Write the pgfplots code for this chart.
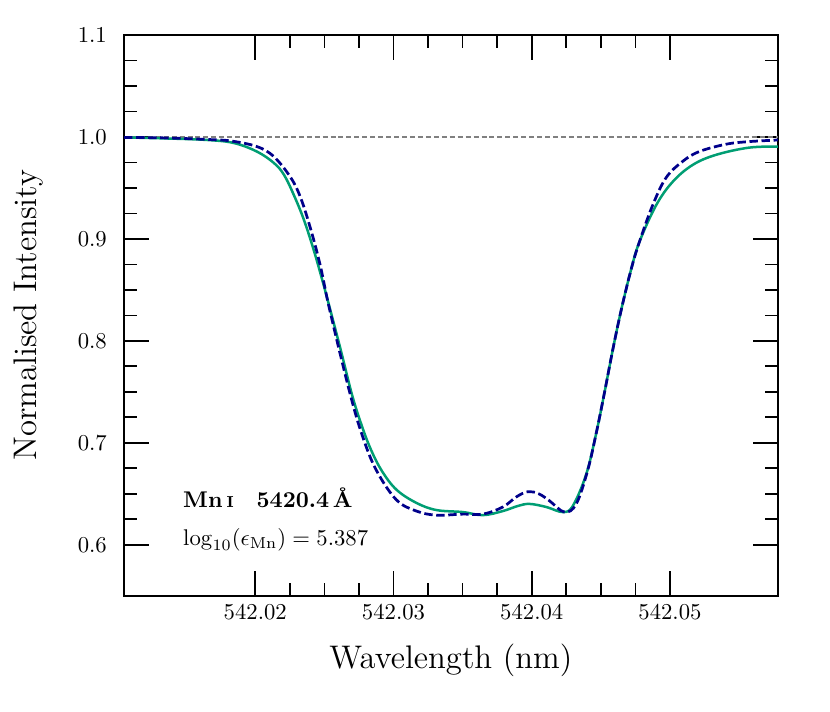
\documentclass[border=0pt]{standalone}
\usepackage{pgfplots}
\pgfplotsset{compat=1.18}
\definecolor{specgreen}{RGB}{0,158,115}
\definecolor{specblue}{RGB}{0,0,139}
\begin{document}
\begin{tikzpicture}
\begin{axis}[
    scale only axis,
    width=288pt, height=247pt,
    % x is wavelength minus 542 nm (kept small for TeX precision)
    xmin=0.0105, xmax=0.0578,
    ymin=0.55, ymax=1.1,
    xtick={0.02,0.03,0.04,0.05},
    xticklabels={542.02,542.03,542.04,542.05},
    scaled x ticks=false,
    ytick={0.6,0.7,0.8,0.9,1.0,1.1},
    yticklabel style={/pgf/number format/fixed, /pgf/number format/fixed zerofill,
        /pgf/number format/precision=1, xshift=-4pt},
    minor x tick num=3, minor y tick num=3,
    tick align=inside,
    xtick pos=both, ytick pos=both,
    major tick length=11pt, minor tick length=5.7pt,
    tick style={black, line width=0.7pt},
    axis line style={line width=0.9pt},
    xlabel={Wavelength (nm)},
    ylabel={Normalised Intensity},
    label style={font=\Large},
    x label style={at={(axis description cs:0.5,-0.115)}, anchor=center},
    y label style={at={(axis description cs:-0.146,0.5)}, anchor=center},
]

% continuum level
\addplot[gray, line width=0.6pt, dash pattern=on 2.2pt off 1.3pt] coordinates {(0.0105,1.0) (0.0578,1.0)};

% observed
\addplot[specgreen, line width=1.1pt, smooth, tension=0.6] coordinates {
    (0.01051,0.9995) (0.0135,0.9985) (0.01650,0.9970) (0.01845,0.9940)
    (0.02012,0.9856) (0.02134,0.9745) (0.02207,0.9630) (0.02279,0.9430)
    (0.02351,0.9190) (0.02423,0.8890) (0.02490,0.8570) (0.02551,0.8260)
    (0.02624,0.7880) (0.02696,0.7490) (0.02756,0.7225) (0.02828,0.6960)
    (0.02913,0.6730) (0.03021,0.6540) (0.03166,0.6410) (0.03310,0.6340)
    (0.03502,0.6320) (0.03647,0.6290) (0.03791,0.6330) (0.03900,0.6380)
    (0.03984,0.6400) (0.04105,0.6370) (0.04225,0.6320) (0.04297,0.6380)
    (0.04394,0.6690) (0.04466,0.7090) (0.04526,0.7490) (0.04586,0.7910)
    (0.04647,0.8300) (0.04719,0.8700) (0.04779,0.8970) (0.04900,0.9330)
    (0.05020,0.9560) (0.05164,0.9725) (0.05333,0.9824) (0.05574,0.9895)
    (0.0579,0.9905)
};

% synthetic
\addplot[specblue, line width=1.2pt, dash pattern=on 3.7pt off 1.6pt, smooth, tension=0.6] coordinates {
    (0.01051,0.9995) (0.0135,0.9990) (0.01650,0.9975) (0.01824,0.9960)
    (0.02012,0.9905) (0.02134,0.9807) (0.02257,0.9600) (0.02329,0.9400)
    (0.02402,0.9090) (0.02470,0.8740) (0.02539,0.8300) (0.02684,0.7490)
    (0.02777,0.7060) (0.02876,0.6730) (0.03021,0.6440) (0.03166,0.6330)
    (0.03310,0.6290) (0.03502,0.6300) (0.03647,0.6300) (0.03791,0.6370)
    (0.03890,0.6470) (0.03972,0.6520) (0.04050,0.6500) (0.04129,0.6430)
    (0.04237,0.6320) (0.04322,0.6400) (0.04405,0.6730) (0.04466,0.7090)
    (0.04526,0.7490) (0.04586,0.7910) (0.04647,0.8300) (0.04719,0.8700)
    (0.04779,0.8970) (0.04875,0.9330) (0.04972,0.9600) (0.05092,0.9760)
    (0.05212,0.9856) (0.05405,0.9928) (0.05574,0.9954) (0.0579,0.9970)
};

\node[anchor=west, inner sep=0pt, font=\bfseries] at (axis description cs:0.09,0.175)
    {Mn\,{\fontsize{7}{8}\selectfont I}\quad 5420.4\,\AA};
\node[anchor=west, inner sep=0pt] at (axis description cs:0.09,0.100)
    {$\log_{10}(\epsilon_{\mathrm{Mn}}) = 5.387$};
\end{axis}
\path ([shift={(-54.6pt,-51pt)}]current axis.south west) rectangle ([shift={(23pt,15.4pt)}]current axis.north east);
\end{tikzpicture}
\end{document}
